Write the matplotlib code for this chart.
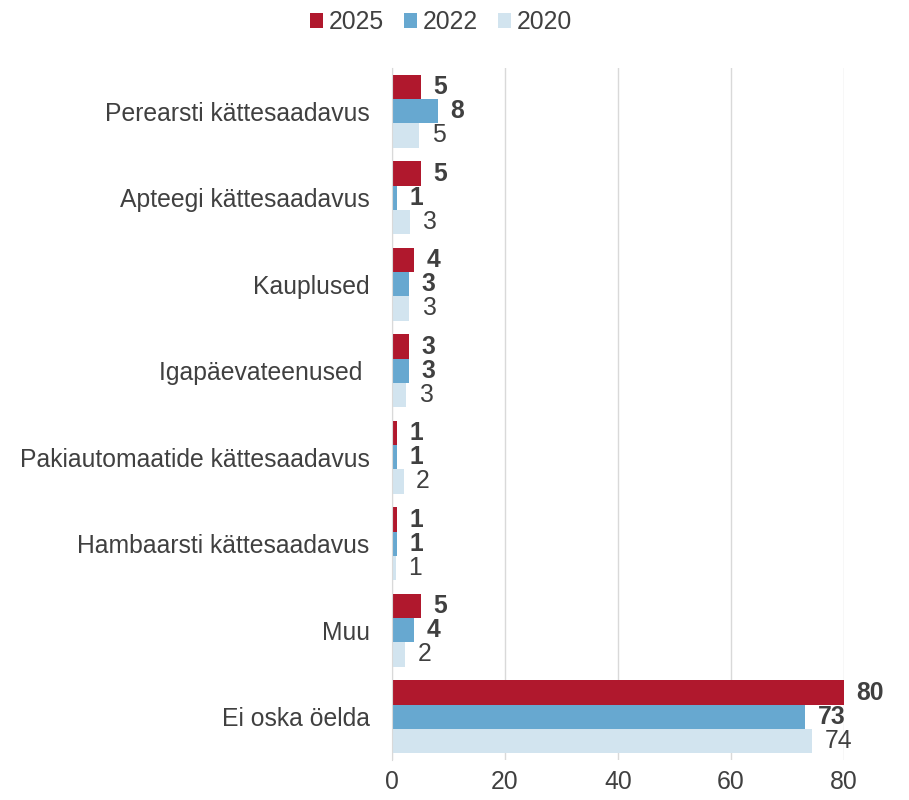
import matplotlib.pyplot as plt
import numpy as np

plt.rcParams['font.family'] = ['Liberation Sans', 'DejaVu Sans']

kategooriad = ['Perearsti kättesaadavus', 'Apteegi kättesaadavus', 'Kauplused',
               'Igapäevateenused ', 'Pakiautomaatide kättesaadavus',
               'Hambaarsti kättesaadavus', 'Muu', 'Ei oska öelda']
aastad = ['2025', '2022', '2020']
v2025 = [5.1, 5.1, 4.0, 3.0, 0.9, 0.9, 5.1, 80.0]
v2022 = [8.1, 0.9, 3.0, 3.0, 0.9, 0.9, 4.0, 73.1]
v2020 = [4.9, 3.2, 3.1, 2.6, 2.1, 0.7, 2.4, 74.3]

varvid = ['#B0182D', '#67A8D0', '#D2E4EF']
tekst = '#404040'
fs = 17.8

fig = plt.figure(figsize=(9.09, 8.0), dpi=100)
ax = fig.add_axes([0.431, 0.05, 0.4975, 0.865])

y = np.arange(len(kategooriad))
h = 0.28
for i, (vals, nimi, c) in enumerate(zip([v2025, v2022, v2020], aastad, varvid)):
    pos = y - h + i * h
    ax.barh(pos, vals, height=h, color=c, label=nimi, zorder=2)
    for p, v in zip(pos, vals):
        ax.annotate(f'{v:.0f}', (v, p), xytext=(9, 0), textcoords='offset points',
                    ha='left', va='center', fontsize=fs, color=tekst,
                    fontweight='bold' if i < 2 else 'normal')

ax.set_xlim(0, 80)
ax.set_ylim(len(kategooriad) - 0.5, -0.5)
ax.set_xticks([0, 20, 40, 60, 80])
ax.set_yticks(y)
ax.set_yticklabels(kategooriad)
ax.tick_params(axis='both', length=0, labelsize=fs, labelcolor=tekst)
ax.tick_params(axis='y', pad=16)
ax.tick_params(axis='x', pad=7)
ax.grid(axis='x', color='#D9D9D9', linewidth=1, zorder=0)
for s in ['top', 'right', 'bottom']:
    ax.spines[s].set_visible(False)
ax.spines['left'].set_color('#D9D9D9')

fig.legend(loc='upper center', bbox_to_anchor=(0.485, 1.015), ncol=3, frameon=False,
           fontsize=fs, labelcolor=tekst, handlelength=0.52, handleheight=0.52,
           handletextpad=0.25, columnspacing=0.8)

fig.savefig('out.png', dpi=100)
